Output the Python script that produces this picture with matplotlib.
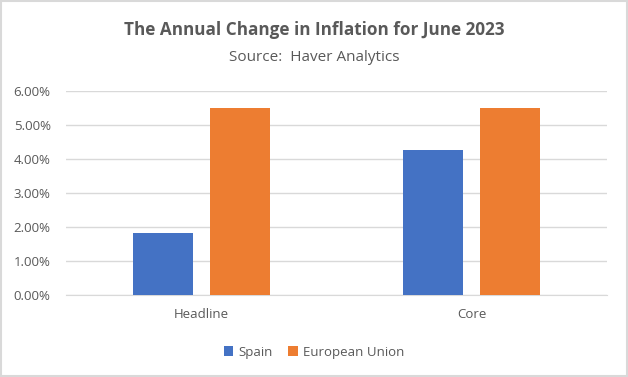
import numpy as np
import matplotlib.pyplot as plt
from matplotlib.ticker import FuncFormatter
from matplotlib.patches import Rectangle

categories = ["Headline", "Core"]
spain = [1.83, 4.26]
eu = [5.51, 5.49]
series_names = ["Spain", "European Union"]

plt.rcParams['font.family'] = ['Open Sans', 'DejaVu Sans']

fig = plt.figure(figsize=(6.28, 3.77), dpi=100)
ax = fig.add_axes([0.105, 0.2175, 0.8616, 0.5411])

x = np.arange(len(categories))
w = 0.222
ax.bar(x - 0.142, spain, w, color="#4472C4", label=series_names[0], zorder=3)
ax.bar(x + 0.142, eu, w, color="#ED7D31", label=series_names[1], zorder=3)

ax.set_xlim(-0.5, 1.5)
ax.set_ylim(0, 6)
ax.set_yticks(np.arange(0, 7, 1))
ax.yaxis.set_major_formatter(FuncFormatter(lambda v, p: "%.2f%%" % v))
ax.set_xticks(x)
ax.set_xticklabels(categories)
ax.grid(axis="y", color="#D9D9D9", linewidth=1, zorder=0)
for s in ["top", "right", "left"]:
    ax.spines[s].set_visible(False)
ax.spines["bottom"].set_color("#D9D9D9")
ax.tick_params(axis="both", length=0, colors="#595959", labelsize=9.5)
ax.tick_params(axis="x", pad=9)
ax.tick_params(axis="y", pad=11)

fig.text(0.5, 0.92, "The Annual Change in Inflation for June 2023", ha="center", va="center",
         fontsize=12.3, fontweight="bold", color="#595959")
fig.text(0.5, 0.848, "Source:  Haver Analytics", ha="center", va="center",
         fontsize=11, color="#595959")

leg = fig.legend(loc="center", bbox_to_anchor=(0.5, 0.066), ncol=2, frameon=False,
                 fontsize=9.5, handlelength=0.7, handleheight=0.7, columnspacing=1.2,
                 handletextpad=0.4)
for t in leg.get_texts():
    t.set_color("#595959")

fig.patches.append(Rectangle((0.002, 0.003), 0.996, 0.994, transform=fig.transFigure,
                             fill=False, edgecolor="#D9D9D9", linewidth=1.5))

fig.savefig("out.png", dpi=100)
